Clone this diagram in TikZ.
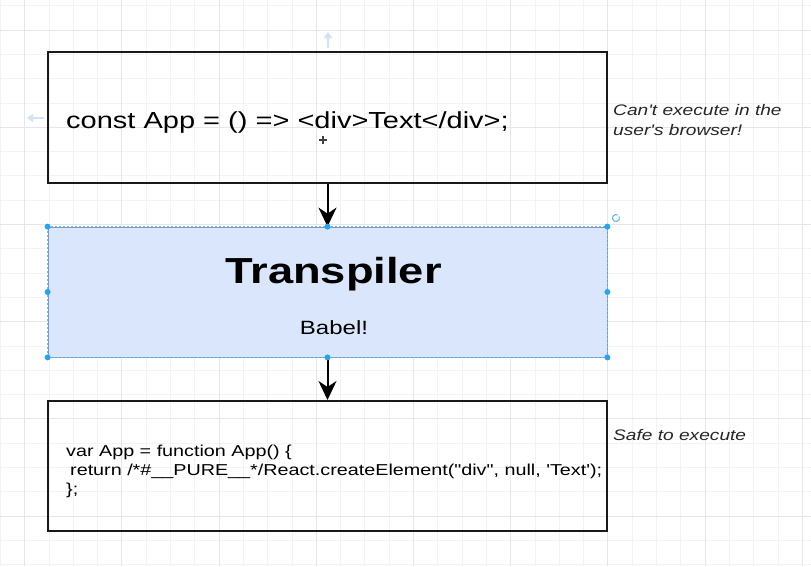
\documentclass[tikz,border=0pt]{standalone}
\usepackage{fontspec}
\setmainfont{Liberation Sans}[FakeStretch=1.25]
\newfontfamily\plainsans{Liberation Sans}[FakeStretch=1.25]
\usetikzlibrary{arrows.meta}
\definecolor{gridminor}{HTML}{F3F3F3}
\definecolor{gridmajor}{HTML}{E6E6E6}
\definecolor{selblue}{HTML}{29A3EF}
\definecolor{boxfill}{HTML}{DAE6FB}
\definecolor{boxline}{HTML}{7E97C4}
\definecolor{hintblue}{HTML}{CFE4F8}
\tikzset{
  codebox/.style={draw=black!90, line width=2pt, minimum width=559pt, minimum height=131pt, inner sep=0pt},
  transbox/.style={draw=boxline, fill=boxfill, line width=0.8pt, minimum width=559pt, minimum height=130pt, inner sep=0pt},
  flow/.style={draw=black, line width=2pt, -{Stealth[length=19pt,width=18pt,inset=6pt]}},
  handle/.style={circle, fill=selblue, inner sep=0pt, minimum size=6pt},
  note/.style={anchor=base west, align=left, inner sep=0pt, font=\plainsans\itshape\fontsize{15.3}{19.5}\selectfont, text=black!85},
}
\begin{document}
\begin{tikzpicture}[x=1pt,y=-1pt]
\useasboundingbox (0,0) rectangle (811,566);
\fill[white] (0,0) rectangle (811,566);
% grid
\foreach \k in {0,...,33} {
  \pgfmathsetmacro{\gx}{0.3+24.3*\k}
  \draw[gridminor, line width=0.8pt] (\gx,0) -- (\gx,566);
}
\foreach \k in {0,...,23} {
  \pgfmathsetmacro{\gy}{5.7+24.3*\k}
  \draw[gridminor, line width=0.8pt] (0,\gy) -- (811,\gy);
}
\foreach \k in {1,5,...,33} {
  \pgfmathsetmacro{\gx}{0.3+24.3*\k}
  \draw[gridmajor, line width=0.8pt] (\gx,0) -- (\gx,566);
}
\foreach \k in {1,5,...,23} {
  \pgfmathsetmacro{\gy}{5.7+24.3*\k}
  \draw[gridmajor, line width=0.8pt] (0,\gy) -- (811,\gy);
}
% hint arrows
\draw[hintblue, line width=2.5pt, -{Triangle[length=6pt,width=8pt]}] (328,48) -- (328,32);
\draw[hintblue, line width=2.5pt, -{Triangle[length=6pt,width=8pt]}] (44,118) -- (27,118);
% boxes
\node[codebox] (src) at (327.5,117.5) {};
\node[transbox] (trans) at (327.5,292) {};
\node[codebox, minimum height=130pt] (out) at (327.5,466) {};
\draw[selblue!70, line width=0.7pt, dash pattern=on 2pt off 2pt] (trans.north west) rectangle (trans.south east);
% texts
\node[anchor=base west, inner sep=0pt, font=\plainsans\fontsize{23.2}{28}\selectfont] (srctext) at (66,128) {const App = () => <div>Text</div>;};
\node[anchor=base, inner sep=0pt, font=\plainsans\bfseries\fontsize{36.2}{40}\selectfont] (ttitle) at (333.5,283) {Transpiler};
\node[anchor=base, inner sep=0pt, font=\plainsans\fontsize{19.2}{22}\selectfont] (tsub) at (334,334) {Babel!};
\node[anchor=base west, align=left, inner sep=0pt, font=\plainsans\fontsize{15.8}{19}\selectfont] (outtext) at (66,494)
  {var App = function App() \{\\
  \hspace*{4pt}return /*\#\_\_PURE\_\_*/React.createElement("div", null, 'Text');\\
  \};};
\node[note] (note1) at (613,135) {Can't execute in the\\user's browser!};
\node[note] (note2) at (613,440) {Safe to execute};
% connectors
\draw[flow] (src.south) -- (trans.north);
\draw[flow] (trans.south) -- (out.north);
% selection handles
\foreach \a in {north west, north, north east, west, east, south west, south, south east}
  \node[handle] at (trans.\a) {};
% rotate icon
\draw[selblue!80, line width=1pt] (616,218) ++(60:3.5pt) arc[start angle=60, end angle=390, radius=3.5pt];
% move cursor
\draw[black!75, line width=1.6pt] (319,140) -- (327,140) (323,136) -- (323,144);
\end{tikzpicture}
\end{document}
